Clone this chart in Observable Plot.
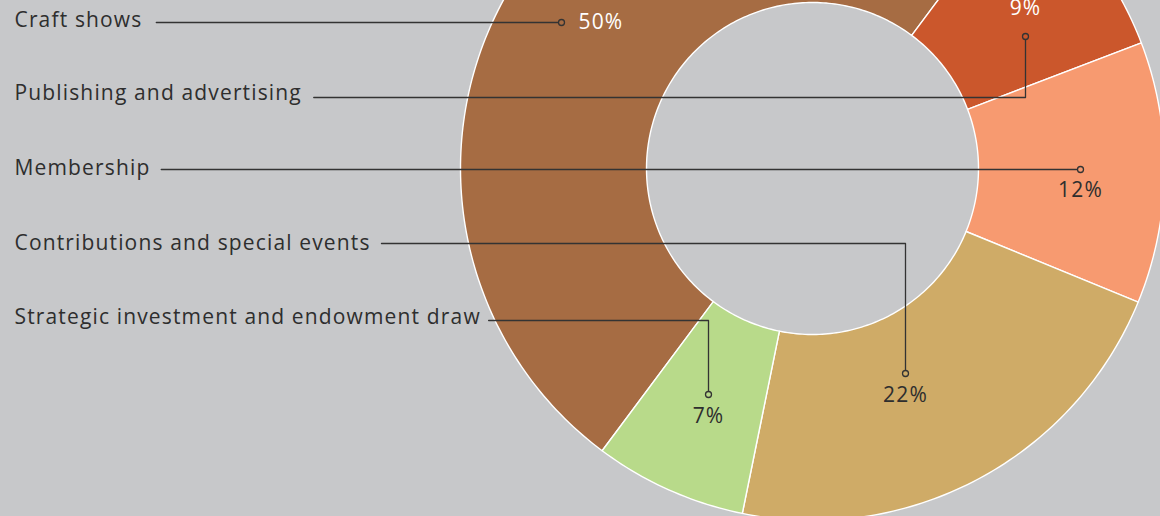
<!DOCTYPE html>
<html>
<head>
<meta charset="utf-8">
<script src="https://cdn.jsdelivr.net/npm/d3@7"></script>
<script src="https://cdn.jsdelivr.net/npm/@observablehq/plot@0.6"></script>
<style>
  html, body { margin: 0; padding: 0; background: #c7c8ca; }
  #chart { width: 1160px; height: 516px; overflow: hidden; }
</style>
</head>
<body>
<div id="chart"></div>
<script>
// ---- data ----
const categories = ["Craft shows", "Publishing and advertising", "Membership", "Contributions and special events", "Strategic investment and endowment draw"];
const values = [50, 9, 12, 22, 7];
const valueLabels = ["50%", "9%", "12%", "22%", "7%"];
const colors = ["#a66c43", "#cb572c", "#f79a70", "#cfab67", "#b8da8a"];

// ---- layout (pixels relative to donut centre) ----
const W = 1160, H = 516;
const CX = 812, CY = 168;
const R_OUT = 352, R_IN = 166;
const START = 216.7 * Math.PI / 180;
const FONT = "'Open Sans', 'Lato', sans-serif";
const FS = 21;
const LS = 1.15; // letter spacing
const labelLeft = 14 - CX;
const rowText = [19.5, 93, 168, 243, 317].map(v => v - CY);
const rowLine = [22, 97, 169, 243, 320].map(v => v - CY);
const dotPos = [[561, 22], [1025, 36], [1080, 169], [905, 373], [708, 394]].map(([x, y]) => [x - CX, y - CY]);
const valOffset = [[17, 0, "start"], [0, -28, "middle"], [0, 21, "middle"], [0, 22, "middle"], [0, 22, "middle"]];
const valColor = ["#ffffff", "#ffffff", "#2e2e2e", "#2e2e2e", "#2e2e2e"];
const gaps = [15, 13, 12, 12, 9];

// ---- build slice polygons ----
const total = d3.sum(values);
const slicePts = [];
let acc = 0;
categories.forEach((name, i) => {
  const a0 = START + acc / total * 2 * Math.PI;
  acc += values[i];
  const a1 = START + acc / total * 2 * Math.PI;
  const n = Math.max(12, Math.ceil((a1 - a0) / (Math.PI / 180)));
  for (let k = 0; k <= n; k++) {
    const a = a0 + (a1 - a0) * k / n;
    slicePts.push({name, x: R_OUT * Math.sin(a), y: -R_OUT * Math.cos(a)});
  }
  for (let k = n; k >= 0; k--) {
    const a = a0 + (a1 - a0) * k / n;
    slicePts.push({name, x: R_IN * Math.sin(a), y: -R_IN * Math.cos(a)});
  }
});

// ---- measure label widths ----
const ctx = document.createElement("canvas").getContext("2d");
ctx.font = `${FS}px ${FONT}`;
const labelRows = categories.map((name, i) => ({
  name, i, x: labelLeft, y: rowText[i],
  w: ctx.measureText(name).width + LS * (name.length - 1)
}));

const leaderPts = [];
labelRows.forEach(d => {
  const [dx, dy] = dotPos[d.i];
  leaderPts.push({name: d.name, x: d.x + d.w + gaps[d.i], y: rowLine[d.i]});
  leaderPts.push({name: d.name, x: dx, y: rowLine[d.i]});
  leaderPts.push({name: d.name, x: dx, y: dy});
});

const dots = categories.map((name, i) => ({name, x: dotPos[i][0], y: dotPos[i][1]}));
const vals = categories.map((name, i) => ({
  name, label: valueLabels[i],
  x: dotPos[i][0] + valOffset[i][0], y: dotPos[i][1] + valOffset[i][1],
  anchor: valOffset[i][2], color: valColor[i]
}));

const chart = Plot.plot({
  width: W, height: H, margin: 0,
  x: {domain: [-CX, W - CX], range: [0, W], axis: null},
  y: {domain: [-CY, H - CY], range: [0, H], axis: null},
  color: {domain: categories, range: colors},
  style: {background: "#c7c8ca", fontFamily: FONT, fontSize: FS + "px", overflow: "hidden", letterSpacing: LS + "px"},
  marks: [
    Plot.line(slicePts, {x: "x", y: "y", z: "name", fill: "name", stroke: "#ffffff", strokeWidth: 1.4, curve: "linear-closed"}),
    Plot.line(leaderPts, {x: "x", y: "y", z: "name", stroke: "#333333", strokeWidth: 1.3}),
    Plot.dot(dots, {x: "x", y: "y", r: 3, fill: "name", stroke: "#333333", strokeWidth: 1.3}),
    Plot.text(labelRows, {x: "x", y: "y", text: "name", textAnchor: "start", fill: "#2e2e2e", fontSize: FS}),
    ...["start", "middle"].map(anc => Plot.text(vals.filter(d => d.anchor === anc), {x: "x", y: "y", text: "label", textAnchor: anc, fill: d => d.color, fontSize: FS}))
  ]
});
document.getElementById("chart").appendChild(chart);
</script>
</body>
</html>
